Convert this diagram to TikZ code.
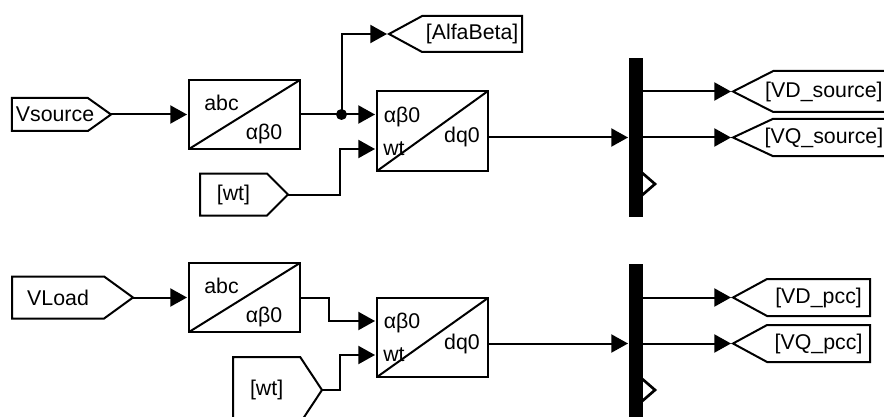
\documentclass[tikz,border=0pt]{standalone}
\usepackage{fontspec}
\setmainfont{Liberation Sans}
\usetikzlibrary{arrows.meta,shapes.symbols}
\tikzset{>={Triangle[length=12.5pt,width=13.5pt]}}
\tikzstyle{conv} = [draw, rectangle, inner sep=0pt, outer sep=0pt, line width=1.5pt, path picture={\draw[line width=1.5pt] (path picture bounding box.south west)--(path picture bounding box.north east);}]
\tikzstyle{fromtag} = [draw, signal, signal to=east, anchor=east, inner sep=0pt, outer sep=0pt, align=left, line width=1.5pt]
\tikzstyle{gototag} = [draw, signal, signal to=west, anchor=west, inner sep=0pt, outer sep=0pt, align=center, line width=1.5pt]
\tikzstyle{bar} = [draw=black, fill=black, rectangle, inner sep=0pt, outer sep=0pt, minimum width=9pt, minimum height=117.75pt]
\tikzstyle{port} = [inner sep=0pt]
\tikzstyle{wire} = [->, shorten >=1.5pt]

\begin{document}
\begin{tikzpicture}[x=0.75pt,y=-0.75pt,font=\fontsize{16}{18}\selectfont,line width=1.5pt]
\useasboundingbox (0,0) rectangle (884,417);

% Source row
\node[fromtag,text width=57pt,minimum height=24.75pt,signal pointer angle=71](vsource) at (111,114.5){\hspace*{3pt}Vsource};
\node[conv,minimum width=83.25pt,minimum height=51.75pt](abcA) at (244.5,114.5){};
\node[conv,minimum width=83.25pt,minimum height=60pt](dqA) at (432.5,131){};
\node[fromtag,text width=50.25pt,minimum height=31.5pt,signal pointer angle=90,align=center](wtA) at (288,194.5){[wt]};
\node[gototag,text width=75pt,minimum height=27pt,signal pointer angle=57](alfabeta) at (389,34){[AlfaBeta]};
\node[bar](muxA) at (636,137.5){};
\node[gototag,text width=90pt,minimum height=30.75pt,signal pointer angle=54,align=left](vdsource) at (733,91.5){\hspace*{-6pt}[VD\_source]};
\node[gototag,text width=90pt,minimum height=27.75pt,signal pointer angle=50,align=left](vqsource) at (733,137.5){\hspace*{-6pt}[VQ\_source]};

\node[port](abcAtxt) at (221.5,103){abc};
\node[port](abAtxt) at (264,134){αβ0};
\node[port](abBtxt) at (402,117){αβ0};
\node[port](wtAtxt) at (394,149){wt};
\node[port](dqAtxt) at (462,137){dq0};

% Load row
\node[fromtag,text width=69pt,minimum height=31.5pt,signal pointer angle=72,align=center](vload) at (133,297.5){VLoad};
\node[conv,minimum width=83.25pt,minimum height=51.75pt](abcB) at (244.5,297.5){};
\node[conv,minimum width=83.25pt,minimum height=59.25pt](dqB) at (432.5,337.5){};
\node[fromtag,text width=50.25pt,minimum height=49.5pt,signal pointer angle=113,align=center](wtB) at (322,390){[wt]};
\node[bar](muxB) at (636,343.5){};
\node[gototag,text width=77.25pt,minimum height=27.75pt,signal pointer angle=57](vdpcc) at (733,297.5){[VD\_pcc]};
\node[gototag,text width=77.25pt,minimum height=27.75pt,signal pointer angle=57](vqpcc) at (733,343.5){[VQ\_pcc]};

\node[port](abcBtxt) at (221.5,286){abc};
\node[port](abCtxt) at (264,317){αβ0};
\node[port](abDtxt) at (402,323){αβ0};
\node[port](wtBtxt) at (394,355){wt};
\node[port](dqBtxt) at (462,344){dq0};

% Block inputs and outputs
\coordinate (dqAin) at (377,149);
\coordinate (dqAout) at (488,137.5);
\coordinate (dqBa) at (377,321);
\coordinate (dqBb) at (377,355);
\coordinate (dqBout) at (488,343.5);
\coordinate (split) at (341.5,114.5);

% Connectors
\draw[wire](vsource.east)--(abcA.west);
\draw[wire](abcA.east)--(abcA.east -| dqA.west);
\draw[wire](split)|-(alfabeta.west);
\draw[wire](wtA.east)-|(340,149)--(dqAin);
\draw[wire](dqAout)--(dqAout -| muxA.west);
\draw[wire](vdsource.west -| muxA.east)--(vdsource.west);
\draw[wire](vqsource.west -| muxA.east)--(vqsource.west);
\fill (split) circle (5.5);

\draw[wire](vload.east)--(abcB.west);
\draw[wire](abcB.east)-|(329,321)--(dqBa);
\draw[wire](wtB.east)-|(340,355)--(dqBb);
\draw[wire](dqBout)--(dqBout -| muxB.west);
\draw[wire](vdpcc.west -| muxB.east)--(vdpcc.west);
\draw[wire](vqpcc.west -| muxB.east)--(vqpcc.west);

% Clock chevrons on the bars
\draw[line width=2pt] (640,171)--(655,184)--(640,197);
\draw[line width=2pt] (640,377)--(655,390)--(640,403);

\end{tikzpicture}
\end{document}
